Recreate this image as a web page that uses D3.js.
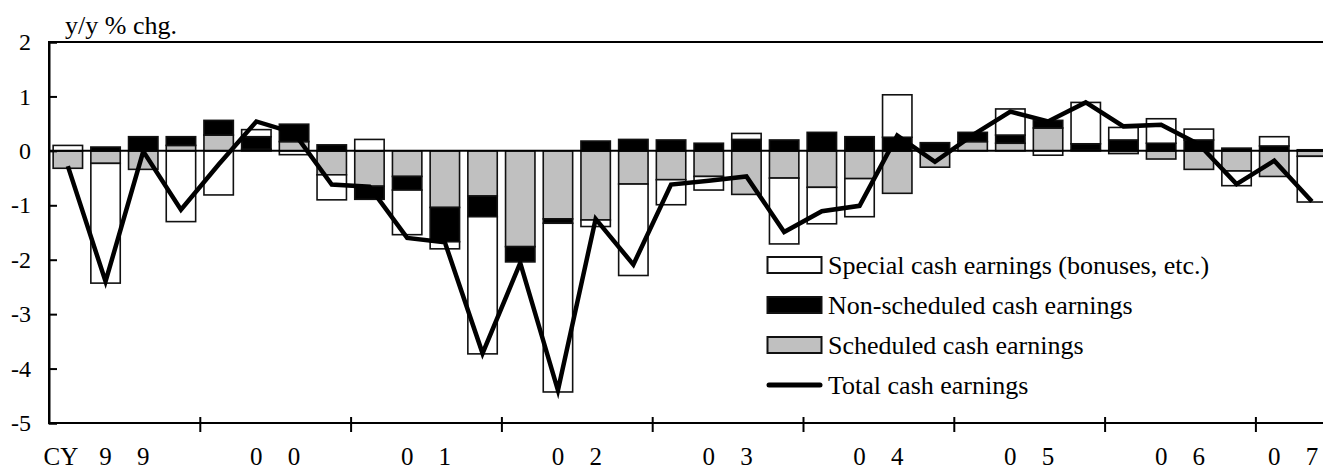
<!DOCTYPE html>
<html>
<head>
<meta charset="utf-8">
<script src="https://cdn.jsdelivr.net/npm/d3@7"></script>
<style>
html,body{margin:0;background:#fff}
@font-face { font-family: "ChartSerif"; src: local("Liberation Serif"), local("LiberationSerif"), local("LiberationSerif-Regular"), local("Times New Roman"), local("Tinos"); }
</style>
</head>
<body>
<svg id="s" width="1323" height="468"></svg>
<script>
// Quarterly contributions to y/y change in total cash earnings, 1999Q1 - 2007Q2
const quarters = [
  "1999Q1","1999Q2","1999Q3","1999Q4",
  "2000Q1","2000Q2","2000Q3","2000Q4",
  "2001Q1","2001Q2","2001Q3","2001Q4",
  "2002Q1","2002Q2","2002Q3","2002Q4",
  "2003Q1","2003Q2","2003Q3","2003Q4",
  "2004Q1","2004Q2","2004Q3","2004Q4",
  "2005Q1","2005Q2","2005Q3","2005Q4",
  "2006Q1","2006Q2","2006Q3","2006Q4",
  "2007Q1","2007Q2"
];

const scheduled = [
  -0.32, -0.23, -0.34, 0.10,
   0.29,  0.03,  0.17, -0.44,
  -0.65, -0.47, -1.04, -0.83,
  -1.76, -1.25, -1.27, -0.61,
  -0.53, -0.47, -0.80, -0.50,
  -0.67, -0.51, -0.78, -0.30,
   0.17,  0.14,  0.42,  0.01,
  -0.05, -0.15, -0.34, -0.37,
  -0.47, -0.10
];

const nonScheduled = [
   0.00,  0.07,  0.26,  0.16,
   0.27,  0.23,  0.32,  0.11,
  -0.24, -0.25, -0.63, -0.38,
  -0.28, -0.08,  0.18,  0.21,
   0.20,  0.14,  0.21,  0.20,
   0.34,  0.26,  0.25,  0.15,
   0.17,  0.15,  0.14,  0.12,
   0.20,  0.14,  0.20,  0.05,
   0.09,  0.02
];

const special = [
   0.10, -2.20,  0.00, -1.30,
  -0.81,  0.13, -0.07, -0.46,
   0.21, -0.82, -0.13, -2.52,
   0.00, -3.10, -0.12, -1.68,
  -0.46, -0.25,  0.11, -1.21,
  -0.67, -0.70,  0.78,  0.00,
   0.00,  0.48, -0.08,  0.76,
   0.23,  0.45,  0.20, -0.27,
   0.17, -0.84
];

const total = [
  -0.28, -2.40, -0.01, -1.08,
  -0.25,  0.54,  0.33, -0.62,
  -0.66, -1.60, -1.68, -3.72,
  -2.06, -4.40, -1.25, -2.09,
  -0.62, -0.55, -0.47, -1.49,
  -1.11, -1.01,  0.28, -0.20,
   0.29,  0.72,  0.54,  0.89,
   0.45,  0.48,  0.12, -0.61,
  -0.18, -0.93
];

// Category labels: year digits spread over the 2nd and 3rd quarters
const xLabels = [
  "CY","9","9","",
  "","0","0","",
  "","0","1","",
  "","0","2","",
  "","0","3","",
  "","0","4","",
  "","0","5","",
  "","0","6","",
  "0","7"
];

const yTicks = [-5, -4, -3, -2, -1, 0, 1, 2];
const yearStarts = [4, 8, 12, 16, 20, 24, 28, 32];

const seriesKeys = ["scheduled", "nonScheduled", "special"];
const seriesNames = {
  special: "Special cash earnings (bonuses, etc.)",
  nonScheduled: "Non-scheduled cash earnings",
  scheduled: "Scheduled cash earnings",
  total: "Total cash earnings"
};
const seriesFill = { scheduled: "#c0c0c0", nonScheduled: "#000000", special: "#ffffff" };

const rows = quarters.map((q, i) => ({
  q, i,
  scheduled: scheduled[i],
  nonScheduled: nonScheduled[i],
  special: special[i],
  total: total[i]
}));

const fontStack = "'Liberation Serif', ChartSerif, Tinos, 'Times New Roman', Times";
function serifText(sel) {
  sel.attr("font-family", "Liberation Serif")
     .style("font-family", () => fontStack);
}

const svg = d3.select("#s");
const plotLeft = 49, plotTop = 42, plotBottom = 423;
const step = 37.7;
const plotRight = plotLeft + quarters.length * step;

const x = d3.scaleBand()
  .domain(quarters)
  .range([plotLeft, plotRight])
  .paddingInner(0.22)
  .paddingOuter(0.11);

const xq = d3.scaleLinear().domain([0, quarters.length]).range([plotLeft, plotRight]);

const y = d3.scaleLinear().domain([-5, 2]).range([plotBottom, plotTop]);

// Stacked bars: positives stack upward, negatives downward
const stacked = d3.stack()
  .keys(seriesKeys)
  .offset(d3.stackOffsetDiverging)(rows);

const barG = svg.append("g");
stacked.forEach(layer => {
  barG.append("g")
    .attr("fill", seriesFill[layer.key])
    .attr("stroke", "#111")
    .attr("stroke-width", 1.6)
    .selectAll("rect")
    .data(layer.filter(d => d[1] - d[0] !== 0))
    .join("rect")
      .attr("x", d => x(d.data.q))
      .attr("width", x.bandwidth())
      .attr("y", d => y(Math.max(d[0], d[1])))
      .attr("height", d => Math.abs(y(d[0]) - y(d[1])));
});

// Zero line
svg.append("line")
  .attr("x1", plotLeft).attr("x2", plotRight)
  .attr("y1", y(0)).attr("y2", y(0))
  .attr("stroke", "#000").attr("stroke-width", 2);

// Plot frame
svg.append("rect")
  .attr("x", plotLeft).attr("y", plotTop)
  .attr("width", plotRight - plotLeft).attr("height", plotBottom - plotTop)
  .attr("fill", "none").attr("stroke", "#000").attr("stroke-width", 2);

// Total line
const line = d3.line()
  .x(d => x(d.q) + x.bandwidth() / 2)
  .y(d => y(d.total));
svg.append("path")
  .datum(rows)
  .attr("d", line)
  .attr("fill", "none")
  .attr("stroke", "#000")
  .attr("stroke-width", 4.5)
  .attr("stroke-linejoin", "miter")
  .attr("stroke-miterlimit", 10);

// Y axis
const yAxis = svg.append("g")
  .attr("transform", `translate(${plotLeft},0)`)
  .call(d3.axisLeft(y).tickValues(yTicks).tickSize(-8).tickPadding(18).tickFormat(d => String(d)));
yAxis.attr("font-family", null).attr("font-size", null);
yAxis.select(".domain").attr("stroke-width", 2);
yAxis.selectAll(".tick line").attr("stroke-width", 2);
yAxis.selectAll(".tick text")
  .call(serifText)
  .attr("font-size", 24)
  .attr("fill", "#000");

// X axis: year boundary ticks
const xTickAxis = svg.append("g")
  .attr("transform", `translate(0,${plotBottom - 6})`)
  .call(d3.axisBottom(xq).tickValues(yearStarts).tickSize(15).tickFormat(""));
xTickAxis.attr("font-family", null).attr("font-size", null);
xTickAxis.select(".domain").remove();
xTickAxis.selectAll(".tick text").remove();
xTickAxis.selectAll(".tick line").attr("stroke-width", 2);

// X axis: category labels
const xLabelAxis = svg.append("g")
  .attr("transform", `translate(0,${plotBottom})`)
  .call(d3.axisBottom(x).tickSize(0).tickPadding(24).tickFormat((d, i) => xLabels[i]));
xLabelAxis.attr("font-family", null).attr("font-size", null);
xLabelAxis.select(".domain").remove();
xLabelAxis.selectAll(".tick text")
  .call(serifText)
  .attr("font-size", 25)
  .attr("fill", "#000")
  .attr("dx", (d, i) => i === 0 ? -7 : 0);

// Unit label
svg.append("text")
  .attr("x", 65).attr("y", 34)
  .call(serifText)
  .attr("font-size", 26)
  .text("y/y % chg.");

// Legend
const legend = svg.append("g").attr("transform", "translate(767,257)");
const legendItems = ["special", "nonScheduled", "scheduled", "total"];
legendItems.forEach((key, i) => {
  const g = legend.append("g").attr("transform", `translate(0,${i * 40})`);
  if (key === "total") {
    g.append("line")
      .attr("x1", 2).attr("x2", 53).attr("y1", 8).attr("y2", 8)
      .attr("stroke", "#000").attr("stroke-width", 5).attr("stroke-linecap", "round");
  } else {
    g.append("rect")
      .attr("x", 0.5).attr("y", 0).attr("width", 54).attr("height", 16)
      .attr("fill", seriesFill[key]).attr("stroke", "#111").attr("stroke-width", 2);
  }
  g.append("text")
    .attr("x", 61).attr("y", 17)
    .call(serifText)
    .attr("font-size", 26)
    .text(seriesNames[key]);
});
</script>
</body>
</html>
